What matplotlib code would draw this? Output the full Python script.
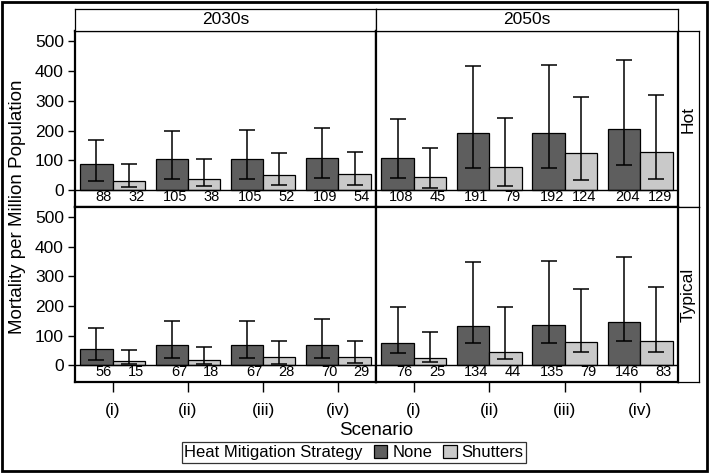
import matplotlib

matplotlib.use("Agg")

import matplotlib.pyplot as plt
import numpy as np
from matplotlib.patches import Rectangle

plt.rcParams["font.family"] = ["Liberation Sans", "DejaVu Sans"]

scenarios = ["(i)", "(ii)", "(iii)", "(iv)"]
periods = ["2030s", "2050s"]
summers = ["Hot", "Typical"]
strategies = ["None", "Shutters"]
colors = {"None": "#5e5e5e", "Shutters": "#c9c9c9"}

# Hot summer, 2030s
hot_2030_none = [88, 105, 105, 109]
hot_2030_none_lo = [32, 39, 39, 41]
hot_2030_none_hi = [168, 199, 201, 209]
hot_2030_shut = [32, 38, 52, 54]
hot_2030_shut_lo = [11, 13, 19, 19]
hot_2030_shut_hi = [89, 105, 125, 128]

# Hot summer, 2050s
hot_2050_none = [108, 191, 192, 204]
hot_2050_none_lo = [42, 75, 75, 83]
hot_2050_none_hi = [237, 416, 419, 437]
hot_2050_shut = [45, 79, 124, 129]
hot_2050_shut_lo = [7, 13, 36, 38]
hot_2050_shut_hi = [140, 243, 313, 319]

# Typical summer, 2030s
typ_2030_none = [56, 67, 67, 70]
typ_2030_none_lo = [19, 25, 25, 26]
typ_2030_none_hi = [125, 149, 149, 157]
typ_2030_shut = [15, 18, 28, 29]
typ_2030_shut_lo = [3, 3, 6, 8]
typ_2030_shut_hi = [51, 63, 83, 83]

# Typical summer, 2050s
typ_2050_none = [76, 134, 135, 146]
typ_2050_none_lo = [41, 75, 75, 83]
typ_2050_none_hi = [197, 349, 352, 366]
typ_2050_shut = [25, 44, 79, 83]
typ_2050_shut_lo = [11, 21, 44, 46]
typ_2050_shut_hi = [112, 197, 258, 265]

panels = {
    ("Hot", "2030s"): [
        (hot_2030_none, hot_2030_none_lo, hot_2030_none_hi),
        (hot_2030_shut, hot_2030_shut_lo, hot_2030_shut_hi),
    ],
    ("Hot", "2050s"): [
        (hot_2050_none, hot_2050_none_lo, hot_2050_none_hi),
        (hot_2050_shut, hot_2050_shut_lo, hot_2050_shut_hi),
    ],
    ("Typical", "2030s"): [
        (typ_2030_none, typ_2030_none_lo, typ_2030_none_hi),
        (typ_2030_shut, typ_2030_shut_lo, typ_2030_shut_hi),
    ],
    ("Typical", "2050s"): [
        (typ_2050_none, typ_2050_none_lo, typ_2050_none_hi),
        (typ_2050_shut, typ_2050_shut_lo, typ_2050_shut_hi),
    ],
}

W, H = 709, 473
fig = plt.figure(figsize=(W / 100, H / 100), dpi=100)

x_edges = [75, 376, 678]
y_edges = [31, 207, 382]
header_top = 9
strip_right = 699
bar_width = 0.43
x = np.arange(len(scenarios))


def fx(px):
    return px / W


def fy(py):
    return 1 - py / H


for row, summer in enumerate(summers):
    for col, period in enumerate(periods):
        left, right = x_edges[col], x_edges[col + 1]
        top, bottom = y_edges[row], y_edges[row + 1]
        ax = fig.add_axes([fx(left), fy(bottom), fx(right - left), (bottom - top) / H])
        for k, (values, lo, hi) in enumerate(panels[(summer, period)]):
            vals = np.array(values)
            offset = -bar_width / 2 if k == 0 else bar_width / 2
            pos = x + offset
            ax.bar(pos, vals, width=bar_width, color=colors[strategies[k]],
                   edgecolor="black", linewidth=0.9, zorder=2)
            yerr = np.vstack([vals - np.array(lo), np.array(hi) - vals])
            ax.errorbar(pos, vals, yerr=yerr, fmt="none", ecolor="black",
                        elinewidth=1.1, capsize=6, capthick=1.1, zorder=3)
            for xp, v in zip(pos, values):
                ax.text(xp + bar_width / 2 - 0.01, -24, str(v), ha="right", va="center",
                        fontsize=10.5)
        ax.axhline(0, color="black", linewidth=1.0, zorder=4)
        ax.set_xlim(-0.5, 3.5)
        ax.set_ylim(-56, 533)
        for sp in ax.spines.values():
            sp.set_linewidth(1.6)
        ax.set_yticks([0, 100, 200, 300, 400, 500])
        ax.set_xticks(x)
        ax.tick_params(axis="both", direction="out", length=5, width=1, labelsize=12.5)
        if col == 0:
            ax.tick_params(axis="y", pad=3)
        else:
            ax.tick_params(axis="y", left=False, labelleft=False)
        if row == 1:
            ax.set_xticklabels(scenarios)
            ax.tick_params(axis="x", length=7, pad=8, labelsize=12.5)
        else:
            ax.tick_params(axis="x", bottom=False, labelbottom=False)

        if row == 0:
            hax = fig.add_axes([fx(left), fy(top), fx(right - left), (top - header_top) / H])
            hax.set_xticks([])
            hax.set_yticks([])
            for sp in hax.spines.values():
                sp.set_linewidth(0.9)
            hax.text(0.5, 0.5, period, ha="center", va="center", fontsize=12.5,
                     transform=hax.transAxes)
        if col == 1:
            sax = fig.add_axes([fx(right), fy(bottom), fx(strip_right - right), (bottom - top) / H])
            sax.set_xticks([])
            sax.set_yticks([])
            for sp in sax.spines.values():
                sp.set_linewidth(0.9)
            sax.text(0.5, 0.5, summer, ha="center", va="center", rotation=90,
                     fontsize=12.5, transform=sax.transAxes)

fig.text(fx(18), fy(207), "Mortality per Million Population", rotation=90,
         ha="center", va="center", fontsize=13.5)
fig.text(fx(376), fy(430), "Scenario", ha="center", va="center", fontsize=13.5)

handles = [Rectangle((0, 0), 1, 1, facecolor=colors[s], edgecolor="black", linewidth=0.9)
           for s in strategies]
leg = fig.legend(handles, strategies, loc="center", bbox_to_anchor=(fx(354), fy(452.5)),
                 ncol=2, title="Heat Mitigation Strategy", fontsize=12, title_fontsize=12,
                 frameon=True, fancybox=False, edgecolor="black", handlelength=0.8,
                 handleheight=0.8, handletextpad=0.3, columnspacing=0.5, borderpad=0.15,
                 borderaxespad=0)
leg.get_frame().set_linewidth(0.9)
box = leg._legend_box
title_box, entries = box.get_children()
box._children = [entries]
entries._children = [title_box] + entries.get_children()
entries.sep = 8

fig.patches.append(Rectangle((fx(2), fy(471)), fx(705), 469 / H, transform=fig.transFigure,
                             fill=False, edgecolor="black", linewidth=2))

fig.savefig("out.png", dpi=100)
